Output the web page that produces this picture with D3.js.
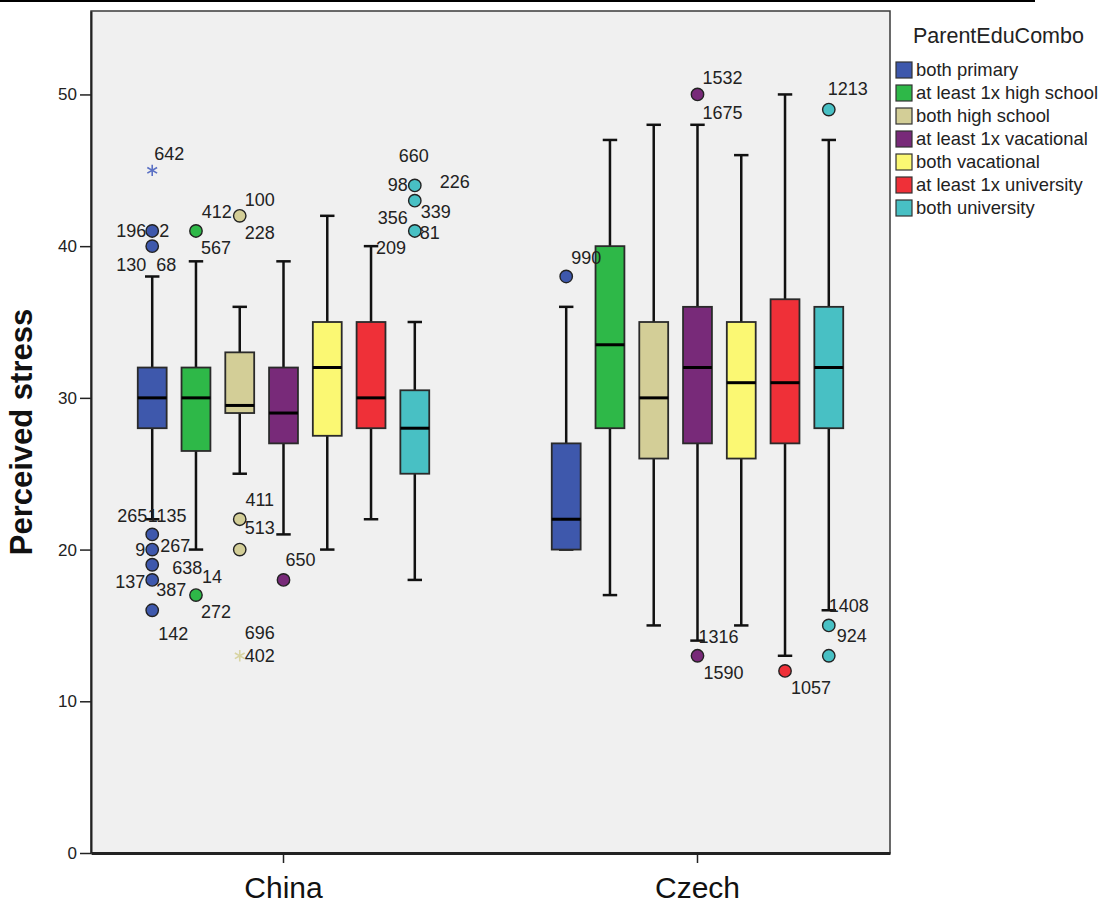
<!DOCTYPE html>
<html>
<head>
<meta charset="utf-8">
<script src="https://cdn.jsdelivr.net/npm/d3@7"></script>
<style>
  body { margin: 0; background: #fff; }
  svg { display: block; font-family: "Liberation Sans", Arial, sans-serif; }
  .axis path, .axis line { stroke: #222; }
</style>
</head>
<body>
<svg id="chart" width="1109" height="903"></svg>
<script>
(function () {
  'use strict';

  // categories
  var countries = ['China', 'Czech'];
  var groups = ['both primary', 'at least 1x high school', 'both high school',
    'at least 1x vacational', 'both vacational', 'at least 1x university', 'both university'];
  var yTicks = [0, 10, 20, 30, 40, 50];

  // box statistics per group
  var chinaLow = [22, 20, 25, 21, 20, 22, 18];
  var chinaQ1 = [28, 26.5, 29, 27, 27.5, 28, 25];
  var chinaMed = [30, 30, 29.5, 29, 32, 30, 28];
  var chinaQ3 = [32, 32, 33, 32, 35, 35, 30.5];
  var chinaHigh = [38, 39, 36, 39, 42, 40, 35];

  var czechLow = [20, 17, 15, 14, 15, 13, 16];
  var czechQ1 = [20, 28, 26, 27, 26, 27, 28];
  var czechMed = [22, 33.5, 30, 32, 31, 31, 32];
  var czechQ3 = [27, 40, 35, 36, 35, 36.5, 36];
  var czechHigh = [36, 47, 48, 48, 46, 50, 47];

  // outliers: country, group index, value, marker, case labels
  var outliers = [
    ['China', 0, 45, 'star', ['642']],
    ['China', 0, 41, 'circle', ['196', '2']],
    ['China', 0, 40, 'circle', ['130', '68']],
    ['China', 0, 21, 'circle', ['265', '1135']],
    ['China', 0, 20, 'circle', ['9', '267']],
    ['China', 0, 19, 'circle', ['638']],
    ['China', 0, 18, 'circle', ['137', '387']],
    ['China', 0, 16, 'circle', ['142']],
    ['China', 1, 41, 'circle', ['567']],
    ['China', 1, 17, 'circle', ['14', '272']],
    ['China', 2, 42, 'circle', ['412', '100', '228']],
    ['China', 2, 22, 'circle', ['411']],
    ['China', 2, 20, 'circle', ['513']],
    ['China', 2, 13, 'star', ['696', '402']],
    ['China', 3, 18, 'circle', ['650']],
    ['China', 5, 40, 'none', ['209']],
    ['China', 6, 44, 'circle', ['660', '98', '226']],
    ['China', 6, 43, 'circle', ['339']],
    ['China', 6, 41, 'circle', ['356', '81']],
    ['Czech', 0, 38, 'circle', ['990']],
    ['Czech', 3, 50, 'circle', ['1532', '1675']],
    ['Czech', 3, 14, 'none', ['1316']],
    ['Czech', 3, 13, 'circle', ['1590']],
    ['Czech', 5, 12, 'circle', ['1057']],
    ['Czech', 6, 49, 'circle', ['1213']],
    ['Czech', 6, 16, 'none', ['1408']],
    ['Czech', 6, 15, 'circle', ['924']],
    ['Czech', 6, 13, 'circle', []]
  ];

  // label placement relative to its point (layout only)
  var labelNudge = {
    '642': [17, -17], '196': [-21, 0], '2': [12, 0], '130': [-21, 19], '68': [14, 19],
    '265': [-20, -19], '1135': [15, -19], '9': [-12, 0], '267': [23, -4], '638': [35, 3],
    '137': [-22, 2], '387': [19, 10], '142': [21, 23], '567': [20, 17], '14': [16, -18],
    '272': [20, 17], '412': [-23, -4], '100': [20, -16], '228': [20, 17], '411': [20, -20],
    '513': [20, -22], '696': [20, -23], '402': [20, 0], '650': [17, -20], '209': [20, 2],
    '660': [-1, -30], '98': [-17, -1], '226': [40, -4], '339': [21, 11], '356': [-22, -13],
    '81': [15, 2], '990': [20, -19], '1532': [25, -17], '1675': [25, 18], '1316': [21, -4],
    '1590': [26, 17], '1057': [26, 17], '1213': [19, -21], '1408': [20, -5], '924': [23, 10]
  };

  var colors = ['#3e58ac', '#2eb848', '#d3ce97', '#782a79', '#fbf873', '#ef3038', '#48c0c4'];
  var starColors = ['#5a70c4', '#2eb848', '#d8d4a2', '#782a79', '#fbf873', '#ef3038', '#48c0c4'];

  var svg = d3.select('#chart');
  var margin = { top: 11, right: 219, bottom: 50, left: 91 };
  var width = 1109 - margin.left - margin.right;
  var height = 903 - margin.top - margin.bottom;

  var x = d3.scaleBand().domain(countries)
    .range([margin.left, margin.left + width])
    .paddingInner(0.26).paddingOuter(0.095);
  var xi = d3.scaleBand().domain(d3.range(groups.length))
    .range([0, x.bandwidth()])
    .paddingInner(0.34).paddingOuter(0.17);
  var y = d3.scaleLinear().domain([0, 55.5]).range([margin.top + height, margin.top]);

  // top rule across the page
  svg.append('line')
    .attr('x1', 0).attr('x2', 1035).attr('y1', 1).attr('y2', 1)
    .attr('stroke', '#000').attr('stroke-width', 2);

  // plot area
  svg.append('rect')
    .attr('x', margin.left).attr('y', margin.top)
    .attr('width', width).attr('height', height)
    .attr('fill', '#f0f0f0')
    .attr('stroke', '#3a3a3a').attr('stroke-width', 1.5);

  // Y AXIS
  var yAxis = svg.append('g')
    .attr('class', 'y axis')
    .attr('transform', 'translate(' + margin.left + ',0)')
    .call(d3.axisLeft(y).tickValues(yTicks).tickSize(11).tickPadding(3).tickSizeOuter(0));
  yAxis.select('.domain').attr('stroke-width', 2);
  yAxis.selectAll('line').attr('stroke-width', 1.5);
  yAxis.selectAll('text')
    .style('font-size', '17px')
    .attr('fill', '#222');

  svg.append('text')
    .attr('transform', 'translate(32,' + (margin.top + height / 2) + ') rotate(-90)')
    .attr('text-anchor', 'middle')
    .style('font-size', '31px')
    .style('font-weight', 'bold')
    .attr('fill', '#111')
    .text('Perceived stress');

  // X AXIS
  var xAxis = svg.append('g')
    .attr('class', 'x axis')
    .attr('transform', 'translate(0,' + (margin.top + height) + ')')
    .call(d3.axisBottom(x).tickSize(10).tickPadding(14).tickSizeOuter(0));
  xAxis.select('.domain').attr('stroke', '#555').attr('stroke-width', 3);
  xAxis.selectAll('line').attr('stroke-width', 1.5);
  xAxis.selectAll('text')
    .style('font-size', '30px')
    .attr('fill', '#111');

  // BOXES
  function groupCenter(country, g) {
    return x(country) + xi(g) + xi.bandwidth() / 2;
  }

  var boxes = [];
  countries.forEach(function(country) {
    var stats = country === 'China'
      ? [chinaLow, chinaQ1, chinaMed, chinaQ3, chinaHigh]
      : [czechLow, czechQ1, czechMed, czechQ3, czechHigh];
    groups.forEach(function(name, g) {
      boxes.push({ country: country, g: g, low: stats[0][g], q1: stats[1][g],
        med: stats[2][g], q3: stats[3][g], high: stats[4][g] });
    });
  });

  var bw = xi.bandwidth();
  var capW = bw * 0.5;
  var box = svg.append('g').selectAll('.box')
    .data(boxes)
    .enter().append('g')
    .attr('class', 'box')
    .attr('transform', function(d) { return 'translate(' + groupCenter(d.country, d.g) + ',0)'; });

  // whiskers
  box.append('line')
    .attr('x1', 0).attr('x2', 0)
    .attr('y1', function(d) { return y(d.high); })
    .attr('y2', function(d) { return y(d.low); })
    .attr('stroke', '#111').attr('stroke-width', 2.5);
  box.append('line')
    .attr('x1', -capW / 2).attr('x2', capW / 2)
    .attr('y1', function(d) { return y(d.high); })
    .attr('y2', function(d) { return y(d.high); })
    .attr('stroke', '#111').attr('stroke-width', 2.5);
  box.append('line')
    .attr('x1', -capW / 2).attr('x2', capW / 2)
    .attr('y1', function(d) { return y(d.low); })
    .attr('y2', function(d) { return y(d.low); })
    .attr('stroke', '#111').attr('stroke-width', 2.5);

  box.append('rect')
    .attr('x', -bw / 2)
    .attr('width', bw)
    .attr('y', function(d) { return y(d.q3); })
    .attr('height', function(d) { return y(d.q1) - y(d.q3); })
    .attr('fill', function(d) { return colors[d.g]; })
    .attr('stroke', '#2a2a2a').attr('stroke-width', 1.8);

  box.append('line')
    .attr('x1', -bw / 2).attr('x2', bw / 2)
    .attr('y1', function(d) { return y(d.med); })
    .attr('y2', function(d) { return y(d.med); })
    .attr('stroke', '#000').attr('stroke-width', 3);

  // OUTLIERS
  var pts = svg.append('g').selectAll('.outlier')
    .data(outliers)
    .enter().append('g')
    .attr('class', 'outlier')
    .attr('transform', function(d) { return 'translate(' + groupCenter(d[0], d[1]) + ',' + y(d[2]) + ')'; });

  pts.filter(function(d) { return d[3] === 'circle'; })
    .append('circle')
    .attr('r', 6.2)
    .attr('fill', function(d) { return colors[d[1]]; })
    .attr('stroke', '#222').attr('stroke-width', 1.4);

  pts.filter(function(d) { return d[3] === 'star'; })
    .append('path')
    .attr('d', d3.symbol().type(d3.symbolAsterisk).size(90))
    .attr('fill', 'none')
    .attr('stroke', function(d) { return starColors[d[1]]; })
    .attr('stroke-width', 1.6);

  pts.selectAll('text')
    .data(function(d) { return d[4]; })
    .enter().append('text')
    .attr('x', function(id) { return labelNudge[id][0]; })
    .attr('y', function(id) { return labelNudge[id][1]; })
    .attr('dy', '0.35em')
    .attr('text-anchor', 'middle')
    .style('font-size', '18px')
    .attr('fill', '#222')
    .text(function(id) { return id; });

  // LEGEND
  var legend = svg.append('g').attr('transform', 'translate(896,0)');
  legend.append('text')
    .attr('x', 17).attr('y', 35).attr('dy', '0.35em')
    .style('font-size', '21.5px')
    .attr('fill', '#222')
    .text('ParentEduCombo');

  var item = legend.selectAll('.item')
    .data(groups)
    .enter().append('g')
    .attr('class', 'item')
    .attr('transform', function(d, i) { return 'translate(0,' + (70 + i * 23) + ')'; });
  item.append('rect')
    .attr('x', 0).attr('y', -8)
    .attr('width', 16).attr('height', 16)
    .attr('fill', function(d, i) { return colors[i]; })
    .attr('stroke', '#333').attr('stroke-width', 1.2);
  item.append('text')
    .attr('x', 20).attr('dy', '0.35em')
    .style('font-size', '18.4px')
    .attr('fill', '#222')
    .text(function(d) { return d; });
}());
</script>
</body>
</html>
